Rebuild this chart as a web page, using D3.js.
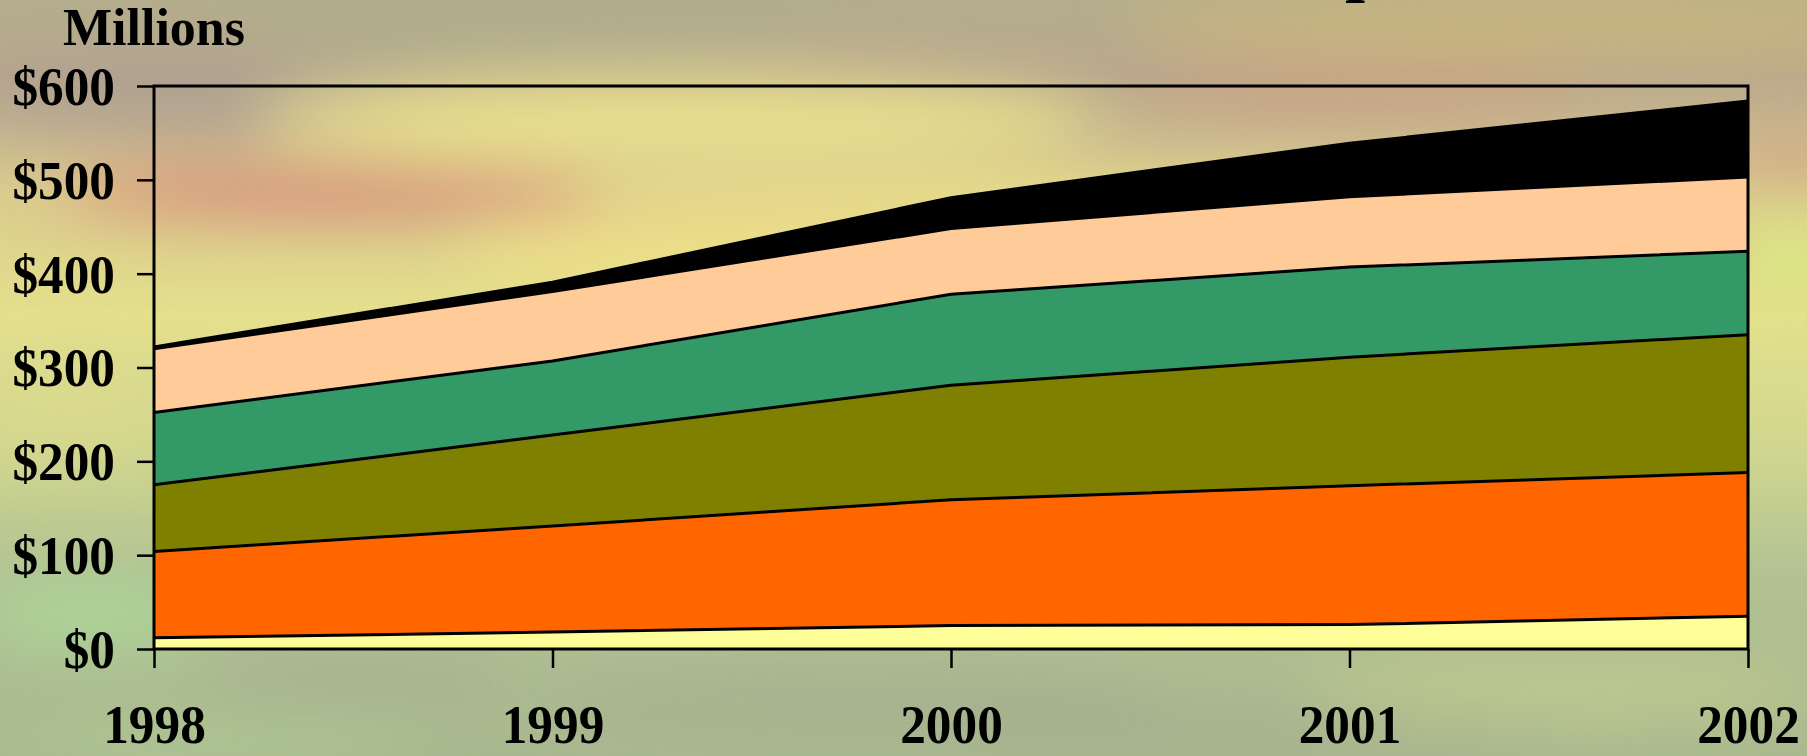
<!DOCTYPE html>
<html lang="en">
<head>
<meta charset="UTF-8">
<title>Millions stacked area</title>
<script src="https://cdn.jsdelivr.net/npm/d3@7"></script>
<style>
  html, body { margin: 0; padding: 0; overflow: hidden; }
  svg { display: block; }
  text { font-family: "Liberation Serif", "Times New Roman", serif; font-weight: bold; fill: #000; }
</style>
</head>
<body>
<svg id="chart"></svg>
<script>
// data (millions of $), bottom layer first
const years = [1998, 1999, 2000, 2001, 2002];
const yellowVals = [12, 18, 25, 26, 35];
const orangeVals = [92, 113, 134, 148, 153];
const oliveVals  = [71, 97, 122, 137, 147];
const greenVals  = [77, 79, 97, 96, 89];
const peachVals  = [68, 74, 70, 75, 79];
const blackVals  = [2, 10, 33, 57, 81];
const layerKeys = ["yellow", "orange", "olive", "green", "peach", "black"];
const layerColors = ["#ffff99", "#ff6600", "#808000", "#339966", "#ffcc99", "#000000"];
const yTicks = [0, 100, 200, 300, 400, 500, 600];

const W = 1807, H = 756;
const margin = { top: 86, right: 59, bottom: 107, left: 154 };
const width = W - margin.left - margin.right;
const height = H - margin.top - margin.bottom;
const squeeze = 0.95; // tick labels are a little narrow

const svg = d3.select("#chart").attr("width", W).attr("height", H);

// cloudy sky background
const defs = svg.append("defs");
const bg = defs.append("linearGradient").attr("id", "sky")
    .attr("x1", 0).attr("y1", 0).attr("x2", 0).attr("y2", 1);
[[0, "#b4ae8c"], [0.1, "#b9a78e"], [0.25, "#d9cb8e"], [0.42, "#e4e08c"],
 [0.6, "#cfd68f"], [0.76, "#b2c293"], [1, "#a9b98f"]].forEach(s =>
    bg.append("stop").attr("offset", s[0]).attr("stop-color", s[1]));
defs.append("filter").attr("id", "blur")
    .attr("x", "-50%").attr("y", "-50%").attr("width", "200%").attr("height", "200%")
    .append("feGaussianBlur").attr("stdDeviation", 30);

svg.append("rect").attr("width", W).attr("height", H).attr("fill", "url(#sky)");

const clouds = [
    [200, 100, 240, 26, "#a89a94", 0.8],
    [520, 30, 300, 25, "#a9ad8a", 0.6],
    [330, 192, 270, 24, "#d8867a", 0.95],
    [720, 215, 220, 14, "#dca084", 0.5],
    [680, 120, 420, 45, "#f3ef8e", 0.75],
    [1000, 255, 540, 70, "#efe288", 0.75],
    [1540, 25, 420, 40, "#cab67e", 0.9],
    [1360, 90, 220, 20, "#d69a80", 0.6],
    [1790, 165, 45, 20, "#d4957f", 0.8],
    [1790, 255, 45, 35, "#d9f07e", 0.8],
    [70, 400, 90, 50, "#dcd88e", 0.7],
    [90, 615, 110, 30, "#abdd9c", 0.8],
    [360, 680, 160, 14, "#9a9c8e", 0.6],
    [850, 700, 320, 14, "#969a8c", 0.6],
    [1250, 730, 300, 16, "#9ea08e", 0.5],
    [1560, 690, 260, 30, "#c9cf8f", 0.7],
    [200, 745, 220, 14, "#b8dc9a", 0.6]
];
svg.append("g").attr("filter", "url(#blur)")
  .selectAll("ellipse").data(clouds).join("ellipse")
    .attr("cx", d => d[0]).attr("cy", d => d[1])
    .attr("rx", d => d[2]).attr("ry", d => d[3])
    .attr("fill", d => d[4]).attr("opacity", d => d[5]);

const rows = years.map((yr, i) => ({
    year: yr,
    yellow: yellowVals[i], orange: orangeVals[i], olive: oliveVals[i],
    green: greenVals[i], peach: peachVals[i], black: blackVals[i]
}));

const x = d3.scaleLinear().domain([1998, 2002]).range([0, width]);
const y = d3.scaleLinear().domain([0, 600]).range([height, 0]);

const stacked = d3.stack().keys(layerKeys)(rows);

const g = svg.append("g").attr("transform", `translate(${margin.left},${margin.top})`);

const area = d3.area()
    .x(d => x(d.data.year))
    .y0(d => y(d[0]))
    .y1(d => y(d[1]));
const topLine = d3.line()
    .x(d => x(d.data.year))
    .y(d => y(d[1]));

g.selectAll(".layer").data(stacked).join("path")
    .attr("class", "layer")
    .attr("d", area)
    .attr("fill", (d, i) => layerColors[i]);

g.selectAll(".edge").data(stacked).join("path")
    .attr("class", "edge")
    .attr("d", topLine)
    .attr("fill", "none")
    .attr("stroke", "#000")
    .attr("stroke-width", 3);

// frame
g.append("rect")
    .attr("width", width).attr("height", height)
    .attr("fill", "none").attr("stroke", "#000").attr("stroke-width", 3);

// axes
const yAxis = g.append("g")
    .call(d3.axisLeft(y).tickValues(yTicks).tickFormat(d => "$" + d)
        .tickSize(17).tickPadding(22));
const xAxis = g.append("g")
    .attr("transform", `translate(0,${height})`)
    .call(d3.axisBottom(x).tickValues(years).tickFormat(d3.format("d"))
        .tickSize(19).tickPadding(0));

[yAxis, xAxis].forEach(ax => {
    ax.select(".domain").remove();
    ax.selectAll(".tick line").attr("stroke", "#000").attr("stroke-width", 2.5);
    ax.selectAll("text")
        .style("font-family", '"Liberation Serif", "Times New Roman", serif')
        .style("font-weight", "bold")
        .attr("font-size", 54)
        .attr("fill", "#000")
        .attr("transform", `scale(${squeeze},1)`);
});
yAxis.selectAll("text").attr("dy", "0.34em").attr("x", -39 / squeeze);
xAxis.selectAll("text").attr("dy", null).attr("y", 94);

// unit label
svg.append("text")
    .attr("x", 63).attr("y", 45)
    .attr("font-size", 52)
    .text("Millions");

// descender of the cut-off title at the very top
svg.append("text")
    .attr("x", 1345).attr("y", -12)
    .attr("font-size", 72)
    .text("p");
</script>
</body>
</html>
